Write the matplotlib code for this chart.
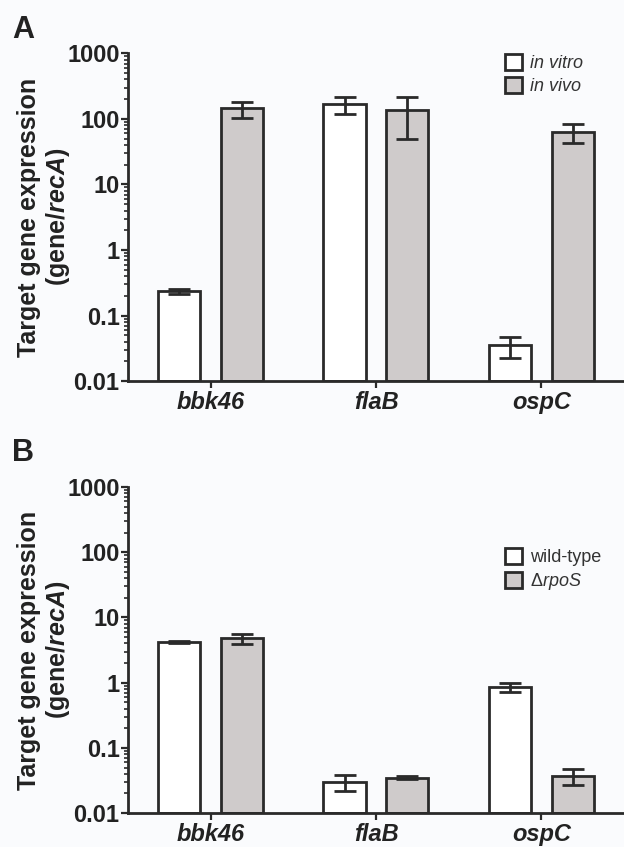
import numpy as np
import matplotlib
matplotlib.use("Agg")
import matplotlib.pyplot as plt
from matplotlib.ticker import LogLocator, NullFormatter, FixedLocator, FixedFormatter

plt.rcParams['font.family'] = ['Liberation Sans', 'DejaVu Sans']
plt.rcParams['mathtext.fontset'] = 'custom'
plt.rcParams['mathtext.rm'] = 'Liberation Sans'
plt.rcParams['mathtext.it'] = 'Liberation Sans:italic'
plt.rcParams['mathtext.bf'] = 'Liberation Sans:bold'
plt.rcParams['mathtext.bfit'] = 'Liberation Sans:italic:bold'

genes = ["bbk46", "flaB", "ospC"]
ytick_vals = [0.01, 0.1, 1, 10, 100, 1000]
ytick_labels = ["0.01", "0.1", "1", "10", "100", "1000"]

# Panel A
a_labels = ["in vitro", "in vivo"]
a_vitro = [0.237, 171, 0.0355]
a_vitro_lo = [0.212, 120, 0.0228]
a_vitro_hi = [0.257, 216, 0.0476]
a_vivo = [145, 135, 64]
a_vivo_lo = [102, 50, 42.4]
a_vivo_hi = [183, 216, 82.7]

# Panel B
b_labels = ["wild-type", "Δ$\\mathit{rpoS}$"]
b_wt = [4.2, 0.030, 0.86]
b_wt_lo = [4.0, 0.0216, 0.72]
b_wt_hi = [4.4, 0.038, 1.0]
b_rpos = [4.8, 0.035, 0.037]
b_rpos_lo = [3.85, 0.033, 0.027]
b_rpos_hi = [5.6, 0.037, 0.048]

EDGE = '#2a2a2a'
GRAY = '#cfcbcb'
BG = '#fafbfd'
BASE = 0.01

fig = plt.figure(figsize=(6.24, 8.47), dpi=100, facecolor=BG)
axA = fig.add_axes([0.205, 0.550, 0.795, 0.387])
axB = fig.add_axes([0.205, 0.040, 0.795, 0.385])

x = np.arange(len(genes))
off = 0.19
w = 0.255

def draw(ax, v1, lo1, hi1, v2, lo2, hi2, labels, italic_legend, legend_y):
    ax.set_facecolor(BG)
    ax.set_yscale('log')
    ax.set_ylim(BASE, 1000)
    ax.set_xlim(-0.5, 2.5)
    v1 = np.array(v1); v2 = np.array(v2)
    e1 = [v1 - np.array(lo1), np.array(hi1) - v1]
    e2 = [v2 - np.array(lo2), np.array(hi2) - v2]
    b1 = ax.bar(x - off, v1 - BASE, w, bottom=BASE, color='white', edgecolor=EDGE, linewidth=2,
                label=labels[0], zorder=2)
    b2 = ax.bar(x + off, v2 - BASE, w, bottom=BASE, color=GRAY, edgecolor=EDGE, linewidth=2,
                label=labels[1], zorder=2)
    ax.errorbar(x - off, v1, yerr=e1, fmt='none', ecolor=EDGE, elinewidth=2, capsize=8, capthick=2, zorder=3)
    ax.errorbar(x + off, v2, yerr=e2, fmt='none', ecolor=EDGE, elinewidth=2, capsize=8, capthick=2, zorder=3)
    for s in ['top', 'right']:
        ax.spines[s].set_visible(False)
    for s in ['left', 'bottom']:
        ax.spines[s].set_linewidth(2)
        ax.spines[s].set_color(EDGE)
    ax.yaxis.set_major_locator(FixedLocator(ytick_vals))
    ax.yaxis.set_major_formatter(FixedFormatter(ytick_labels))
    ax.yaxis.set_minor_locator(LogLocator(base=10, subs=np.arange(2, 10)))
    ax.yaxis.set_minor_formatter(NullFormatter())
    ax.tick_params(axis='y', which='major', direction='out', length=5, width=1.6, color=EDGE,
                   labelsize=17, pad=1)
    ax.tick_params(axis='y', which='minor', direction='out', length=3, width=1.2, color=EDGE)
    ax.set_xticks(x)
    ax.set_xticklabels(genes, fontsize=17, fontweight='bold', fontstyle='italic')
    ax.tick_params(axis='x', direction='out', length=5, width=1.6, color=EDGE, pad=2)
    for lab in ax.get_yticklabels():
        lab.set_fontweight('bold')
        lab.set_color('#222222')
    for lab in ax.get_xticklabels():
        lab.set_color('#222222')
    ax.set_ylabel("Target gene expression\n(gene/$\\mathbfit{recA}$)", fontsize=18, fontweight='bold',
                  color='#222222', linespacing=1.12)
    ax.yaxis.set_label_coords(-0.113, 0.5)
    leg = ax.legend(handles=[b1, b2], loc='upper left', bbox_to_anchor=(0.745, legend_y),
                    frameon=False, fontsize=13, handlelength=0.95, handleheight=0.95,
                    handletextpad=0.45, labelspacing=0.3, borderaxespad=0)
    for t in leg.get_texts():
        t.set_color('#333333')
        if italic_legend:
            t.set_fontstyle('italic')

draw(axA, a_vitro, a_vitro_lo, a_vitro_hi, a_vivo, a_vivo_lo, a_vivo_hi, a_labels, True, 1.02)
draw(axB, b_wt, b_wt_lo, b_wt_hi, b_rpos, b_rpos_lo, b_rpos_hi, b_labels, False, 0.835)

fig.text(0.02, 0.965, "A", fontsize=22, fontweight='bold', color='#222222', va='center')
fig.text(0.02, 0.465, "B", fontsize=22, fontweight='bold', color='#222222', va='center')

fig.savefig("out.png", dpi=100, facecolor=BG)
